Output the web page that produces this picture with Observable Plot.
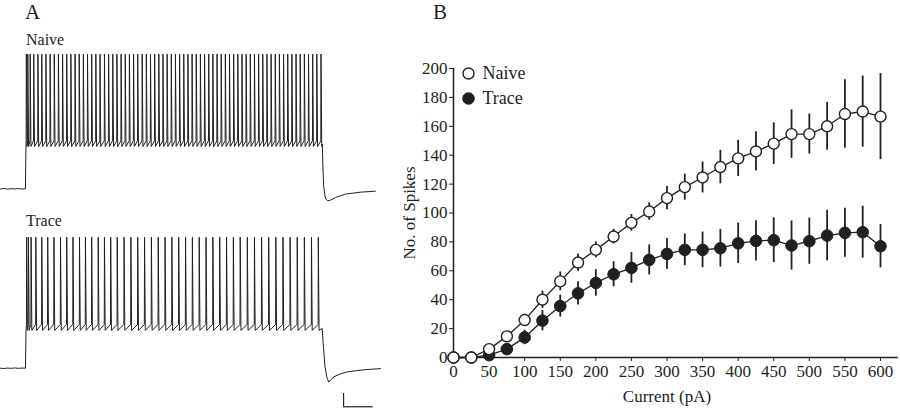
<!DOCTYPE html>
<html><head><meta charset="utf-8">
<script src="https://cdn.jsdelivr.net/npm/d3@7"></script>
<script src="https://cdn.jsdelivr.net/npm/@observablehq/plot@0.6"></script>
<style>
html,body{margin:0;padding:0;background:#fff;}
#wrap{position:relative;width:900px;height:410px;overflow:hidden;font-family:"Liberation Serif","Times New Roman",serif;color:#231f20;}
.abs{position:absolute;}
.lab{position:absolute;line-height:1.15;white-space:nowrap;}
</style></head><body>
<div id="wrap">
  <div id="naive" class="abs" style="left:0;top:0;width:390px;height:210px"></div>
  <div id="trace" class="abs" style="left:0;top:200px;width:390px;height:210px"></div>
  <div id="fi" class="abs" style="left:390px;top:50px;width:510px;height:360px"></div>
  <div class="lab" style="left:25px;top:0px;font-size:21px">A</div>
  <div class="lab" style="left:433px;top:0px;font-size:21px">B</div>
  <div class="lab" style="left:26px;top:31px;font-size:16px">Naive</div>
  <div class="lab" style="left:26px;top:212px;font-size:16px">Trace</div>
</div>
<script>
// ---------- Panel B data ----------
const currents = [0,25,50,75,100,125,150,175,200,225,250,275,300,325,350,375,400,425,450,475,500,525,550,575,600];
const naiveMean = [0,0,5.8,14.6,25.9,40,52.7,65.7,74.5,83.7,93.2,101,110.3,117.9,124.6,131.8,137.8,142.6,148,154.6,154.6,160,168.5,170.2,166.7];
const naiveSem  = [0,0,1.5,3,4,6,6.5,6,5.5,5,5.8,6,8,9,10.7,11.6,12.5,13.6,14.4,16.8,13.9,16.5,23.7,24.6,29.8];
const traceMean = [0,0,1.6,5.8,13.9,25.5,35.6,44.4,51.6,57.6,62,67.5,71.7,74.5,74.5,75.6,79,80.7,81.2,77.5,80.5,84.4,86.3,86.7,77];
const traceSem  = [0,0,1,2,5,7,7.6,8,9.2,8.7,10.6,10.4,10.6,11,12.3,13,14,14,15.5,17,16,17.5,17,18,15];
const groups = ["Naive","Trace"];
const xTicks = [0,50,100,150,200,250,300,350,400,450,500,550,600];
const yTicks = [0,20,40,60,80,100,120,140,160,180,200];
const xLabel = "Current (pA)";
const yLabel = "No. of Spikes";
const xAxisEnd = 625;

// ---------- Panel A data (time in ms, membrane potential in mV) ----------
const naiveSpikes = [3,8,16,28,42,55,69,83,97,111,125,139,153,167,181,195,209,223,237,251,266,280,294,308,322,336,350,364,378,393,407,421,435,449,463,477,491,505,519,533,547,561,575,589,603,617,631,645,659,673,687,701,715,729,743,757,771,785,799,813,827,841,855,869,883,897,911,925,939,953,967,981,995];
const traceSpikes = [4,10,19,35,55,75,96,118,139,160,182,202,223,245,266,287,309,332,355,378,401,424,447,470,493,516,539,562,585,608,631,654,677,700,723,747,771,795,819,843,867,891,915,939,963,986];
const naiveLevels = [-33.9, 31.3, -38.2];   // threshold, peak, AHP trough
const traceLevels = [-37.1, 28.5, -41.6];
const naivePre  = [[-84,-70.1],[-72,-69.8],[-60,-70.2],[-48,-69.9],[-36,-70.1],[-24,-69.8],[-12,-70.1],[0,-70],[1.5,-40]];
const naivePost = [[999.5,-36.5],[1001,-50],[1004,-68],[1010,-77.5],[1018,-79],[1027,-78.5],[1044,-76.5],[1077,-74],[1128,-72.5],[1178,-71.8]];
const tracePre  = [[-84,-70],[-72,-70.2],[-60,-69.9],[-48,-70.1],[-36,-69.8],[-24,-70.1],[-12,-69.9],[0,-70],[2,-42]];
const tracePost = [[999,-40],[1002,-50],[1008,-68],[1015,-77],[1021,-80.3],[1030,-78.5],[1038,-76.5],[1060,-74.3],[1083,-72.8],[1115,-71.8],[1150,-71],[1195,-70.3]];
const timeDomain = [-84, 1229];
const scaleBarT = [1071, 1171];   // 100 ms
const scaleBarV = [-99, -89];     // 10 mV

const ink = "#231f20";

function buildTrace(pre, spikes, post, levels) {
  const [thr, peak, trough] = levels;
  const pts = pre.map(([t, v]) => ({t, v}));
  for (const s of spikes) {
    pts.push({t: s - 0.7, v: thr}, {t: s, v: peak}, {t: s + 2.5, v: trough});
  }
  post.forEach(([t, v]) => pts.push({t, v}));
  return pts;
}

const traceStyle = {fontFamily: '"Liberation Serif", serif', background: "transparent", overflow: "visible"};

const naivePlot = Plot.plot({
  width: 390, height: 210, margin: 0,
  style: traceStyle,
  x: {domain: timeDomain, axis: null},
  y: {domain: [-86.3, 71.6], axis: null},
  marks: [
    Plot.line(buildTrace(naivePre, naiveSpikes, naivePost, naiveLevels), {x: "t", y: "v", stroke: ink, strokeWidth: 1})
  ]
});
document.getElementById("naive").appendChild(naivePlot);

const tracePlot = Plot.plot({
  width: 390, height: 210, margin: 0,
  style: traceStyle,
  x: {domain: timeDomain, axis: null},
  y: {domain: [-101.8, 56.1], axis: null},
  marks: [
    Plot.line(buildTrace(tracePre, traceSpikes, tracePost, traceLevels), {x: "t", y: "v", stroke: ink, strokeWidth: 1}),
    Plot.ruleX([scaleBarT[0]], {y1: scaleBarV[0], y2: scaleBarV[1], stroke: ink, strokeWidth: 1.2}),
    Plot.ruleY([scaleBarV[0]], {x1: scaleBarT[0], x2: scaleBarT[1], stroke: ink, strokeWidth: 1.2})
  ]
});
document.getElementById("trace").appendChild(tracePlot);

// ---------- Panel B ----------
const naiveRows = currents.map((c, i) => ({current: c, mean: naiveMean[i], sem: naiveSem[i], group: groups[0]}));
const traceRows = currents.map((c, i) => ({current: c, mean: traceMean[i], sem: traceSem[i], group: groups[1]}));

const fi = Plot.plot({
  width: 510, height: 360,
  marginLeft: 63, marginRight: 20, marginTop: 18, marginBottom: 53,
  style: {fontFamily: '"Liberation Serif", serif', fontSize: "17px", background: "transparent", color: ink, overflow: "visible"},
  x: {domain: [0, 600], ticks: xTicks, tickSize: 4, tickPadding: 3, label: null},
  y: {domain: [0, 200], ticks: yTicks, tickSize: 4, tickPadding: 2, label: null},
  marks: [
    Plot.ruleY([0], {x1: 0, x2: xAxisEnd, stroke: ink, strokeWidth: 1.5}),
    Plot.ruleX([0], {y1: 0, y2: 200, stroke: ink, strokeWidth: 1.5}),
    Plot.text([xLabel], {frameAnchor: "bottom", dy: 39, textAnchor: "middle", lineAnchor: "middle", fontSize: 17, fill: ink}),
    Plot.text([yLabel], {frameAnchor: "left", dx: -44, rotate: -90, textAnchor: "middle", lineAnchor: "middle", fontSize: 17, fill: ink}),
    Plot.ruleX(traceRows, {x: "current", y1: d => d.mean - d.sem, y2: d => d.mean + d.sem, stroke: ink, strokeWidth: 1.8}),
    Plot.line(traceRows, {x: "current", y: "mean", stroke: ink, strokeWidth: 1.3}),
    Plot.dot(traceRows, {x: "current", y: "mean", r: 5.8, fill: ink, stroke: ink, strokeWidth: 1}),
    Plot.ruleX(naiveRows, {x: "current", y1: d => d.mean - d.sem, y2: d => d.mean + d.sem, stroke: ink, strokeWidth: 1.8}),
    Plot.line(naiveRows, {x: "current", y: "mean", stroke: ink, strokeWidth: 1.3}),
    Plot.dot(naiveRows, {x: "current", y: "mean", r: 5.5, fill: "white", stroke: ink, strokeWidth: 1.4}),
    // legend
    Plot.dot([groups[0]], {frameAnchor: "top-left", dx: 15, dy: 5, r: 5.5, fill: "white", stroke: ink, strokeWidth: 1.4}),
    Plot.dot([groups[1]], {frameAnchor: "top-left", dx: 15, dy: 30, r: 5.8, fill: ink, stroke: ink, strokeWidth: 1}),
    Plot.text([groups[0]], {frameAnchor: "top-left", dx: 29, dy: 5, textAnchor: "start", lineAnchor: "middle", fontSize: 18, fill: ink}),
    Plot.text([groups[1]], {frameAnchor: "top-left", dx: 29, dy: 30, textAnchor: "start", lineAnchor: "middle", fontSize: 18, fill: ink})
  ]
});
document.getElementById("fi").appendChild(fi);
</script>
</body></html>
